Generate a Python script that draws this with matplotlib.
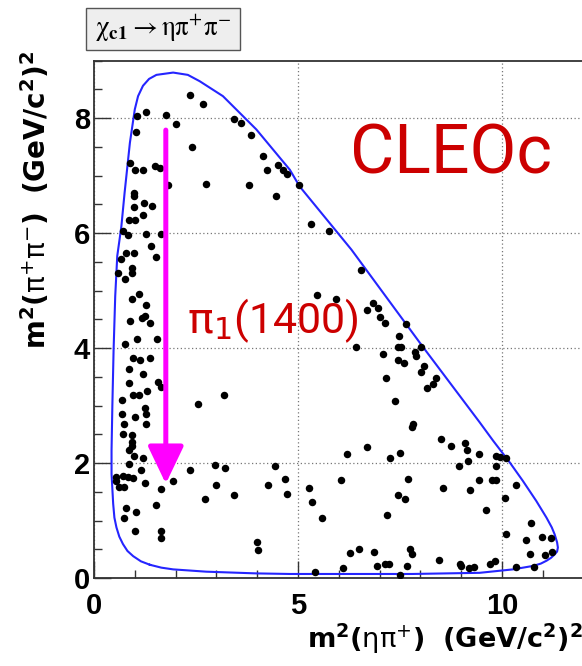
import matplotlib
matplotlib.use("Agg")
from matplotlib import pyplot as plt
from matplotlib.patches import Rectangle
from matplotlib.ticker import MultipleLocator

# event positions (m2(eta pi+), m2(pi+ pi-))
events_x = [
    2.35, 2.68, 1.27, 1.06, 1.76, 2.02, 3.42, 3.61, 1.02, 3.86, 2.40, 4.14, 4.23, 4.51, 4.63, 4.73,
    0.89, 1.00, 1.19, 1.50, 1.61, 1.81, 2.75, 3.80, 4.47, 0.97, 0.97, 1.22, 1.41, 0.98, 0.86, 1.00,
    1.20, 0.71, 0.83, 1.28, 1.65, 1.39, 0.79, 0.97, 1.53, 0.66,
    0.59, 0.75, 0.92, 0.93, 1.10, 0.94, 1.28, 1.18, 1.26, 1.37, 0.89, 1.06, 1.55, 0.77, 0.96, 1.12,
    1.38, 0.85, 1.20, 0.86, 1.57, 1.65, 0.96, 1.10, 1.30, 0.69, 1.26, 1.28, 0.69, 1.00, 0.73, 1.28,
    0.71, 0.94, 0.94, 2.55, 3.18,
    0.94, 0.86, 0.97, 1.20, 0.87, 1.14, 0.55, 0.55, 0.71, 0.83, 0.96, 0.61, 0.74, 1.26, 1.65, 1.94,
    2.35, 2.96, 3.20, 2.98, 2.71, 3.42, 1.53, 0.79, 1.02, 0.73, 1.01, 1.63, 1.63, 4.00, 4.02, 4.43,
    4.27, 4.67, 4.72,
    5.02, 5.33, 5.76,
    6.55, 5.47, 5.94, 6.84, 6.69, 6.96, 7.00, 7.13, 7.64, 7.48, 6.41, 7.45, 7.53, 8.02, 7.86, 7.90,
    7.08, 7.45, 7.60, 8.08, 8.02, 8.38, 8.31, 8.15, 7.15, 7.37, 7.82, 7.80, 8.50, 8.74, 9.09, 6.69,
    6.19, 7.26, 7.51, 9.14, 9.17, 9.44, 8.95, 9.85, 9.94, 10.09, 9.86, 5.27, 5.34, 6.05, 5.59, 7.70,
    7.45, 7.63, 7.18, 8.55, 9.44, 9.75, 9.85, 9.22, 10.34, 10.07, 9.62, 10.72, 10.09, 10.58, 10.99,
    11.19, 10.68, 11.05, 11.23, 6.27, 6.49, 6.86, 7.74, 7.80, 6.10, 6.94, 7.13, 7.23, 7.68, 7.49,
    5.41, 8.45, 8.96, 9.00, 9.19, 9.31, 9.71, 9.82, 10.35, 10.78,
]
events_y = [
    8.40, 8.24, 8.10, 8.03, 8.05, 7.89, 7.98, 7.92, 7.76, 7.70, 7.49, 7.34, 7.09, 7.19, 7.10, 7.02,
    7.22, 7.09, 7.09, 7.17, 7.13, 6.84, 6.86, 6.83, 6.64, 6.70, 6.64, 6.53, 6.47, 6.45, 6.23, 6.23,
    6.32, 6.03, 5.97, 5.98, 5.98, 5.78, 5.65, 5.65, 5.59, 5.54,
    5.31, 5.20, 5.39, 5.31, 4.94, 4.85, 4.75, 4.52, 4.55, 4.43, 4.47, 4.15, 4.15, 4.07, 3.83, 3.79,
    3.83, 3.64, 3.54, 3.39, 3.41, 3.33, 3.18, 3.19, 3.26, 3.10, 2.95, 2.86, 2.86, 2.80, 2.67, 2.67,
    2.51, 2.49, 2.30, 3.02, 3.19,
    2.36, 2.22, 2.13, 2.09, 1.98, 1.88, 1.75, 1.68, 1.78, 1.76, 1.74, 1.58, 1.58, 1.65, 1.55, 1.69,
    1.88, 1.97, 1.91, 1.61, 1.37, 1.45, 1.27, 1.21, 1.14, 1.04, 0.82, 0.81, 0.70, 0.63, 0.48, 1.94,
    1.62, 1.72, 1.46,
    6.83, 6.16, 6.04,
    5.36, 4.92, 4.86, 4.78, 4.66, 4.69, 4.54, 4.44, 4.42, 4.21, 4.01, 4.02, 4.02, 4.02, 3.93, 3.86,
    3.89, 3.80, 3.74, 3.68, 3.58, 3.47, 3.38, 3.31, 3.47, 3.08, 2.68, 2.62, 2.42, 2.30, 2.34, 2.27,
    2.16, 2.09, 2.18, 2.23, 2.03, 2.15, 1.94, 2.13, 2.10, 2.09, 1.94, 1.57, 1.33, 1.71, 1.04, 1.73,
    1.45, 1.37, 1.10, 1.57, 1.71, 1.70, 1.70, 1.53, 1.61, 1.40, 1.19, 0.95, 0.76, 0.66, 0.72,
    0.69, 0.42, 0.40, 0.46, 0.43, 0.51, 0.46, 0.50, 0.42, 0.18, 0.21, 0.25, 0.25, 0.21, 0.05,
    0.10, 0.31, 0.25, 0.21, 0.17, 0.19, 0.25, 0.30, 0.19, 0.19,
]

# kinematic boundary
edge_x = [
    1.37, 1.15, 0.96, 0.82, 0.71, 0.62, 0.55, 0.50, 0.47, 0.43, 0.43, 0.45, 0.48, 0.52, 0.57, 0.67,
    0.75, 0.88, 1.00, 1.08, 1.20, 1.35, 1.53, 1.94, 2.30, 2.59, 3.16, 3.98, 4.80, 5.04, 6.31, 8.06,
    9.45, 9.78, 10.19, 10.51, 10.84, 11.09, 11.22, 11.29, 11.35, 11.37, 11.35, 11.29, 11.20, 11.09,
    10.95, 10.76, 10.27, 9.45, 7.80, 4.80, 3.98, 2.75, 1.94, 1.65, 1.37,
]
edge_y = [
    0.23, 0.29, 0.38, 0.47, 0.59, 0.72, 0.88, 1.05, 1.29, 1.81, 2.22, 3.00, 3.96, 4.90, 5.60, 6.11,
    6.70, 7.57, 8.15, 8.38, 8.56, 8.68, 8.75, 8.79, 8.75, 8.64, 8.38, 7.80, 7.10, 6.81, 5.71, 4.02,
    2.71, 2.39, 2.01, 1.69, 1.34, 1.05, 0.88, 0.76, 0.62, 0.53, 0.46, 0.41, 0.35, 0.30,
    0.25, 0.21, 0.15, 0.09, 0.07, 0.07, 0.08, 0.11, 0.15, 0.18, 0.23,
]

# pi1(1400) band marker
arrow_x = 1.76
arrow_top = 7.79
arrow_tip = 1.64

x_ticks = [0, 5, 10]
y_ticks = [0, 2, 4, 6, 8]

W, H = 582, 666
fig = plt.figure(figsize=(W / 100, H / 100), dpi=100)
ax = fig.add_axes([94 / W, 88 / H, (W - 94) / W, 517.5 / H])
ax.set_xlim(0, (W - 94) / 40.8)
ax.set_ylim(0, 9)

ax.grid(True, color="#777777", linestyle=(0, (1, 2)), linewidth=0.9)
ax.set_axisbelow(True)

ax.plot(edge_x, edge_y, color="#2525ff", linewidth=1.5, zorder=2)
ax.plot(events_x, events_y, "o", color="black", markersize=5.4, markeredgewidth=0, zorder=3)

ax.annotate("", xy=(arrow_x, arrow_tip), xytext=(arrow_x, arrow_top),
            arrowprops=dict(arrowstyle="-|>,head_length=2.3,head_width=1.1", mutation_scale=10,
                            color="#ff00ff", lw=3.6, shrinkA=0, shrinkB=0), zorder=4)

ax.set_xticks(x_ticks)
ax.set_yticks(y_ticks)
ax.xaxis.set_minor_locator(MultipleLocator(1))
ax.yaxis.set_minor_locator(MultipleLocator(0.5))
ax.tick_params(which="major", direction="in", length=12, width=1, color="#333333")
ax.tick_params(which="minor", direction="in", length=6, width=1, color="#333333")
ax.tick_params(axis="x", which="major", pad=10)
ax.tick_params(axis="y", which="major", pad=3)
for lab in ax.get_xticklabels() + ax.get_yticklabels():
    lab.set_fontfamily("Liberation Sans")
    lab.set_fontweight("bold")
    lab.set_fontsize(21)

for side in ["left", "bottom", "top"]:
    ax.spines[side].set_color("#333333")
    ax.spines[side].set_linewidth(1.3)
ax.spines["right"].set_visible(False)

xlab = r"$\mathbf{m^{2}(}\mathrm{\eta\pi^{+}}\mathbf{)\ \ (GeV/c^{2})^{2}}$"
ylab = r"$\mathbf{m^{2}(}\mathrm{\pi^{+}\pi^{-}}\mathbf{)\ \ (GeV/c^{2})^{2}}$"
fig.text(583 / W, 1 - 639 / H, xlab, ha="right", va="center", fontsize=19.5)
fig.text(36 / W, 1 - 50 / H, ylab, ha="center", va="top", rotation=90, fontsize=20)

# title pave
fig.add_artist(Rectangle((86 / W, 1 - 50 / H), 154 / W, 42 / H, transform=fig.transFigure,
                         facecolor="#eeeeee", edgecolor="#555555", linewidth=1))
fig.text(163 / W, 1 - 29 / H, r"$\mathrm{\chi}_{\mathbf{c1}} \rightarrow \mathrm{\eta\pi^{+}\pi^{-}}$",
         ha="center", va="center", fontsize=19.5, math_fontfamily="stix")

fig.text(350 / W, 1 - 174 / H, "CLEOc", ha="left", va="baseline", fontsize=49,
         color="#cc0000", family="Roboto")
fig.text(187 / W, 1 - 333 / H, r"$\mathrm{\pi}_\mathrm{1}$(1400)", ha="left", va="baseline",
         fontsize=31, color="#cc0000", family="Roboto")

fig.savefig("out.png", dpi=100)
